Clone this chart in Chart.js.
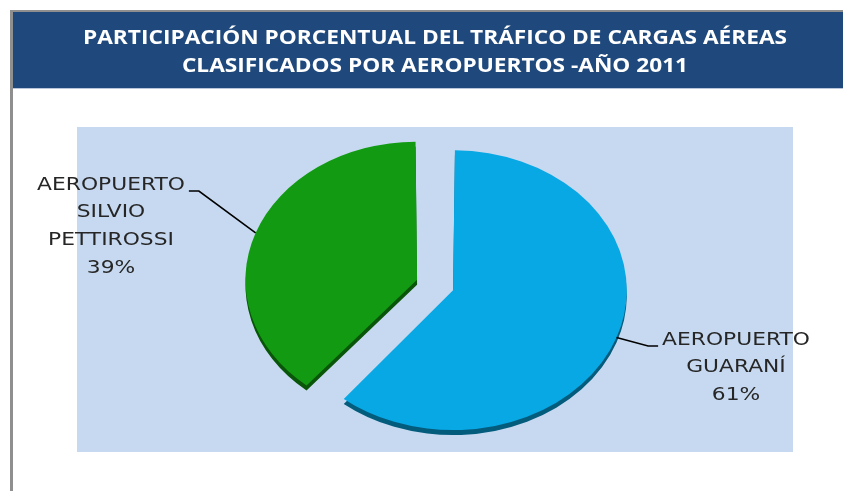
<!DOCTYPE html>
<html>
<head>
<meta charset="utf-8">
<script src="https://cdn.jsdelivr.net/npm/chart.js@4/dist/chart.umd.min.js"></script>
<style>
  html, body { margin: 0; padding: 0; background: #ffffff; }
  #wrap { position: relative; width: 843px; height: 491px; }
</style>
</head>
<body>
<div id="wrap"><canvas id="cargas-chart" width="843" height="491"></canvas></div>
<script>
const TITLE_LINES = [
  'PARTICIPACIÓN PORCENTUAL DEL TRÁFICO DE CARGAS AÉREAS',
  'CLASIFICADOS POR AEROPUERTOS -AÑO 2011',
];
const CATEGORIES = ['AEROPUERTO GUARANÍ', 'AEROPUERTO SILVIO PETTIROSSI'];
const LABEL_LINES = [
  ['AEROPUERTO', 'GUARANÍ'],
  ['AEROPUERTO', 'SILVIO', 'PETTIROSSI'],
];
const SHARES = [61, 39];
const COLORS = ['#08a8e5', '#129b12'];

const TILT = 0.805;
const PLOT_RECT = { left: 77, top: 127, right: 793, bottom: 452 };
const LABEL_POS = [
  { x: 736, y: 340, side: 'right' },
  { x: 111, y: 185, side: 'left' },
];

function centerY(chart) {
  return (chart.chartArea.top + chart.chartArea.bottom) / 2;
}

function tiltPoint(chart, y) {
  const cy = centerY(chart);
  return cy + TILT * (y - cy);
}

// point on the outer edge of an arc, at its middle angle, after offset and tilt
function arcAnchor(chart, arc) {
  const half = (arc.startAngle + arc.endAngle) / 2;
  const shift = (arc.options.offset || 0) / 4;
  const fix = 1 - Math.sin(Math.min(Math.PI, arc.circumference || 0));
  const r = arc.outerRadius + shift * fix;
  const x = arc.x + Math.cos(half) * (shift + r);
  const y = arc.y + Math.sin(half) * (shift + r);
  return { x, y: tiltPoint(chart, y) };
}

const frame = {
  id: 'frame',
  beforeDraw(chart) {
    const { ctx, width, height } = chart;
    ctx.save();
    ctx.fillStyle = '#ffffff';
    ctx.fillRect(0, 0, width, height);

    ctx.fillStyle = '#8f8f8f';
    ctx.fillRect(10, 10, width - 10, 2);
    ctx.fillRect(10, 10, 3, height - 10);

    ctx.fillStyle = '#1f497c';
    ctx.fillRect(13, 12, width - 13, 76);
    ctx.fillStyle = '#b9c6da';
    ctx.fillRect(13, 88, width - 13, 1);

    ctx.font = "bold 20px 'Open Sans'";
    ctx.fillStyle = '#ffffff';
    ctx.textAlign = 'center';
    ctx.textBaseline = 'middle';
    const sx = 704 / ctx.measureText(TITLE_LINES[0]).width;
    TITLE_LINES.forEach((line, i) => {
      ctx.save();
      ctx.translate(435, 38 + i * 28);
      ctx.scale(sx, 1);
      ctx.fillText(line, 0, 0);
      ctx.restore();
    });

    ctx.fillStyle = '#c6d9f0';
    ctx.fillRect(PLOT_RECT.left, PLOT_RECT.top, PLOT_RECT.right - PLOT_RECT.left, PLOT_RECT.bottom - PLOT_RECT.top);
    ctx.restore();
  },
};

const tilt = {
  id: 'tilt',
  beforeDatasetsDraw(chart) {
    const { ctx } = chart;
    const cy = centerY(chart);
    ctx.save();
    ctx.translate(0, cy);
    ctx.scale(1, TILT);
    ctx.translate(0, -cy);

    // darker copy underneath for the pie's thickness
    ctx.save();
    ctx.translate(0, 5 / TILT);
    ctx.filter = 'brightness(0.55)';
    chart.getDatasetMeta(0).data.forEach((arc) => arc.draw(ctx));
    ctx.restore();
  },
  afterDatasetsDraw(chart) {
    chart.ctx.restore();
  },
};

const labels = {
  id: 'sliceLabels',
  afterDraw(chart) {
    const { ctx } = chart;
    const arcs = chart.getDatasetMeta(0).data;
    ctx.save();
    ctx.font = "18px 'DejaVu Sans'";
    ctx.textBaseline = 'middle';
    ctx.textAlign = 'center';
    const sx = 1.21;

    arcs.forEach((arc, i) => {
      const pos = LABEL_POS[i];
      const lines = LABEL_LINES[i].concat([`${SHARES[i]}%`]);
      const w = ctx.measureText(lines[0]).width * sx;

      ctx.fillStyle = '#262626';
      lines.forEach((line, j) => {
        ctx.save();
        ctx.translate(pos.x, pos.y + j * 27.7);
        ctx.scale(sx, 1);
        ctx.fillText(line, 0, 0);
        ctx.restore();
      });

      const a = arcAnchor(chart, arc);
      const dir = pos.side === 'right' ? -1 : 1;
      const end = pos.x + dir * (w / 2 + 4);
      const ly = pos.y + 6;
      ctx.strokeStyle = '#000000';
      ctx.lineWidth = 1.6;
      ctx.beginPath();
      ctx.moveTo(a.x, a.y);
      ctx.lineTo(end + dir * 10, ly);
      ctx.lineTo(end, ly);
      ctx.stroke();
    });
    ctx.restore();
  },
};

new Chart(document.getElementById('cargas-chart'), {
  type: 'pie',
  data: {
    labels: CATEGORIES,
    datasets: [
      {
        data: SHARES,
        backgroundColor: COLORS,
        borderWidth: 0,
        offset: [47, 106],
        radius: 162,
      },
    ],
  },
  options: {
    animation: false,
    responsive: false,
    devicePixelRatio: 1,
    layout: {
      padding: { left: 77, right: 36, top: 118, bottom: 35 },
    },
    plugins: {
      legend: { display: false },
      tooltip: { enabled: false },
      title: { display: false },
    },
  },
  plugins: [frame, tilt, labels],
});
</script>
</body>
</html>
